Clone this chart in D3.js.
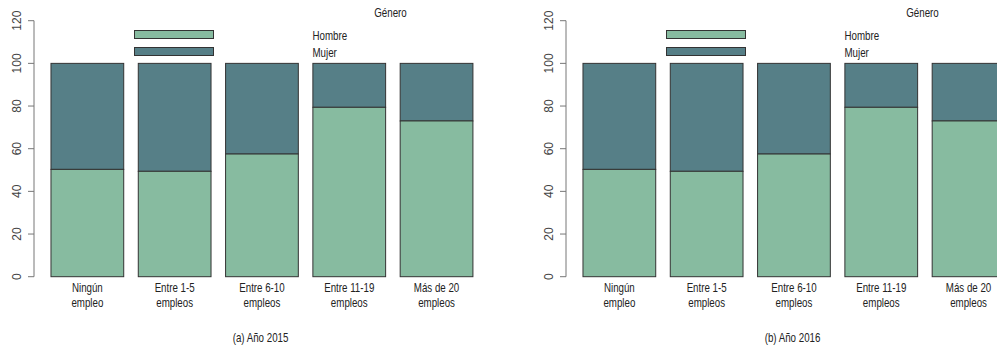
<!DOCTYPE html>
<html>
<head>
<meta charset="utf-8">
<script src="https://cdn.jsdelivr.net/npm/d3@7"></script>
<style>
  html, body { margin: 0; padding: 0; background: #fff; }
  svg { display: block; }
</style>
</head>
<body>
<svg id="chart" width="997" height="349"></svg>
<script>
// Categories (number of employees) and share of men (%) per category
const categories = ["Ningún empleo", "Entre 1-5 empleos", "Entre 6-10 empleos", "Entre 11-19 empleos", "Más de 20 empleos"];
const catLines = [["Ningún", "empleo"], ["Entre 1-5", "empleos"], ["Entre 6-10", "empleos"], ["Entre 11-19", "empleos"], ["Más de 20", "empleos"]];
const hombre2015 = [50.3, 49.4, 57.5, 79.4, 73.0];
const hombre2016 = [50.3, 49.4, 57.5, 79.4, 73.0];
const yTicks = [0, 20, 40, 60, 80, 100, 120];
const legendKeys = ["Hombre", "Mujer"];
const panels = [
  { caption: "(a) Año 2015", hombre: hombre2015, dx: 0 },
  { caption: "(b) Año 2016", hombre: hombre2016, dx: 532 }
];

const colors = { Hombre: "#87bba0", Mujer: "#567f87" };
const sans = "'Liberation Sans', Arial, sans-serif";
const svg = d3.select("#chart");

// condensed label: regular sans squeezed horizontally
function label(parent, x0, y0, txt, anchor) {
  return parent.append("text")
    .attr("transform", `translate(${x0},${y0}) scale(0.78,1)`)
    .attr("text-anchor", anchor || "start")
    .attr("font-family", sans).attr("font-size", 12.5).attr("fill", "#222")
    .text(txt);
}

const y = d3.scaleLinear().domain([0, 120]).range([276.7, 20.7]);
const x = d3.scaleBand().domain(categories)
  .range([43.7, 480.2]).paddingInner(1 / 6).paddingOuter(1 / 12);

panels.forEach(p => {
  const g = svg.append("g").attr("transform", `translate(${p.dx},0)`);

  // y axis
  const ax = g.append("g").attr("transform", "translate(34,0)");
  ax.append("line").attr("x1", 0).attr("x2", 0)
    .attr("y1", y(0)).attr("y2", y(120))
    .attr("stroke", "#777").attr("stroke-width", 1);
  yTicks.forEach(t => {
    ax.append("line").attr("x1", -6).attr("x2", 0)
      .attr("y1", y(t)).attr("y2", y(t))
      .attr("stroke", "#777").attr("stroke-width", 1);
    ax.append("text")
      .attr("transform", `translate(-13.5,${y(t)}) rotate(-90)`)
      .attr("text-anchor", "middle")
      .attr("font-family", sans)
      .attr("font-size", 12)
      .attr("fill", "#444")
      .text(t);
  });

  // stacked bars: Hombre at the bottom, Mujer on top up to 100%
  const rows = categories.map((c, i) => ({ c, h: p.hombre[i], lines: catLines[i] }));
  const bars = g.append("g");
  rows.forEach(r => {
    bars.append("rect")
      .attr("x", x(r.c)).attr("width", x.bandwidth())
      .attr("y", y(100)).attr("height", y(r.h) - y(100))
      .attr("fill", colors.Mujer).attr("stroke", "#333").attr("stroke-width", 1);
    bars.append("rect")
      .attr("x", x(r.c)).attr("width", x.bandwidth())
      .attr("y", y(r.h)).attr("height", y(0) - y(r.h))
      .attr("fill", colors.Hombre).attr("stroke", "#333").attr("stroke-width", 1);
    r.lines.forEach((ln, k) => {
      label(g, x(r.c) + x.bandwidth() / 2, 291.5 + k * 15.5, ln, "middle");
    });
  });

  // legend
  const lg = g.append("g");
  label(lg, 390.5, 17, "Género", "middle");
  const legY = [30.5, 47.5];
  legendKeys.forEach((k, i) => {
    lg.append("rect").attr("x", 134.5).attr("y", legY[i])
      .attr("width", 79).attr("height", 8)
      .attr("fill", colors[k]).attr("stroke", "#333").attr("stroke-width", 1);
    label(lg, 312.5, legY[i] + 9.5, k);
  });

  // caption
  label(g, 260.5, 342, p.caption, "middle");
});
</script>
</body>
</html>
